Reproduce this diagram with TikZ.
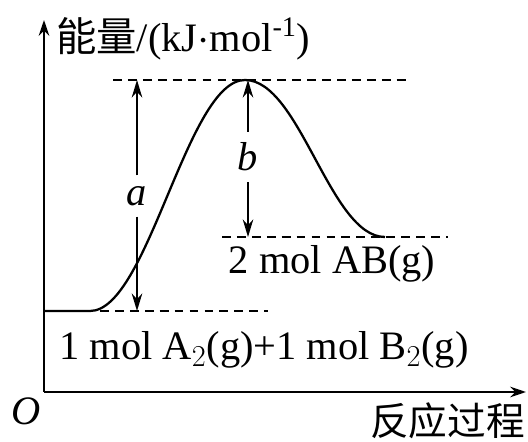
\documentclass[tikz,border=0pt]{standalone}
\usepackage{fontspec}
\setmainfont{Liberation Serif}
\newfontfamily\cjk{Noto Sans CJK SC}
\usetikzlibrary{arrows.meta,positioning}

\begin{document}
\begin{tikzpicture}[
  x=0.02cm, y=-0.02cm,
  font=\fontsize{23}{26}\selectfont,
  axis/.style={line width=1.2pt, -{Stealth[length=9pt,width=6pt]}},
  level/.style={line width=1pt, dash pattern=on 5pt off 3.5pt},
  arrow/.style={line width=1pt, -{Stealth[length=10pt,width=6pt]}},
  curve/.style={line width=1.3pt},
  lbl/.style={inner sep=1pt}
]
\useasboundingbox (0,0) rectangle (528,442);

% axes
\coordinate (O) at (44,392);
\coordinate (ytip) at (44,20);
\coordinate (xtip) at (526,392);
\draw[axis] (O) -- (ytip);
\draw[axis] (O) -- (xtip);
\node[lbl] (origin) at (26,411) {\textit{O}};
\node[lbl, anchor=west] (ylabel) at (54,39) {{\cjk 能量}/(kJ$\cdot$mol\textsuperscript{-1})};
\node[lbl, anchor=east] (xlabel) at (527,421) {\cjk\fontsize{22}{24}\selectfont 反应过程};

% energy levels
\coordinate (start) at (44,311);
\coordinate (rise) at (90,311);
\coordinate (peak) at (245,80);
\coordinate (fin) at (385,237);
\draw[level] (113,80) -- (410,80);
\draw[level] (100,311) -- (268,311);
\draw[level] (222,237) -- (448,237);

% reaction curve
\draw[curve] (start) -- (rise)
  .. controls (148,311) and (187,80) .. (peak)
  .. controls (300,80) and (330,237) .. (fin);

% a and b
\coordinate (atop) at (137,80);
\coordinate (abot) at (137,311);
\coordinate (btop) at (248,80);
\coordinate (bbot) at (248,237);
\node[lbl, inner sep=6pt] (a) at (137,196) {\textit{a}};
\node[lbl, inner sep=6pt] (b) at (248,157) {\textit{b}};
\draw[arrow] (a) -- (atop);
\draw[arrow] (a) -- (abot);
\draw[arrow] (b) -- (btop);
\draw[arrow] (b) -- (bbot);

% species
\node[lbl] (prod) at (332,264) {2 mol AB(g)};
\node[lbl] (reac) at (264,350) {1 mol A$_2$(g)+1 mol B$_2$(g)};
\end{tikzpicture}
\end{document}
